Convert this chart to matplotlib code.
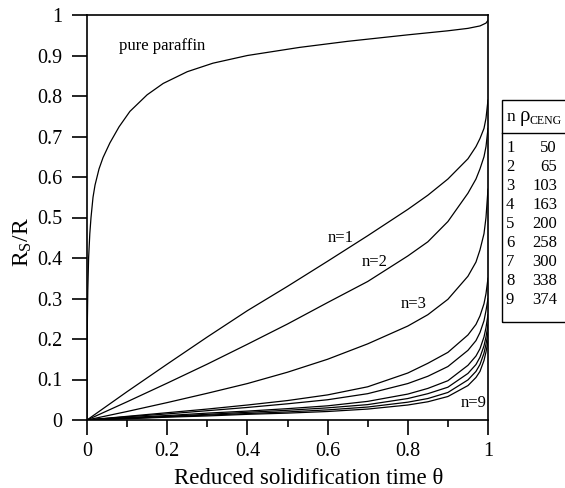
import matplotlib
matplotlib.use("Agg")
import matplotlib.pyplot as plt
from matplotlib.patches import Rectangle
from matplotlib.lines import Line2D
from matplotlib.ticker import MultipleLocator

plt.rcParams['font.family'] = ['Liberation Serif', 'DejaVu Serif']
plt.rcParams['mathtext.fontset'] = 'custom'
plt.rcParams['mathtext.rm'] = 'Liberation Serif'
plt.rcParams['mathtext.it'] = 'Liberation Serif:italic'

# ---- data ----
theta_pure = [0, 0.0005, 0.001, 0.002, 0.004, 0.007, 0.01, 0.015, 0.02, 0.03, 0.04,
              0.057, 0.08, 0.107, 0.15, 0.19, 0.25, 0.314, 0.4, 0.53, 0.65, 0.8,
              0.9, 0.95, 0.98, 0.995, 1.0]
r_pure = [0, 0.17, 0.25, 0.32, 0.40, 0.46, 0.50, 0.55, 0.58, 0.62, 0.648,
          0.684, 0.724, 0.762, 0.803, 0.831, 0.86, 0.881, 0.90, 0.92, 0.935, 0.951,
          0.961, 0.967, 0.973, 0.98, 0.987]

theta = [0, 0.1, 0.2, 0.3, 0.4, 0.5, 0.6, 0.7, 0.8, 0.85, 0.9, 0.95, 0.97,
         0.98, 0.99, 0.995, 1.0]
r_n1 = [0, 0.07, 0.138, 0.205, 0.27, 0.33, 0.392, 0.455, 0.52, 0.555, 0.595, 0.645,
        0.675, 0.695, 0.72, 0.745, 0.79]
r_n2 = [0, 0.045, 0.091, 0.138, 0.187, 0.237, 0.29, 0.342, 0.405, 0.44, 0.49, 0.56,
        0.595, 0.62, 0.65, 0.675, 0.72]
r_n3 = [0, 0.021, 0.043, 0.066, 0.09, 0.118, 0.15, 0.188, 0.232, 0.26, 0.298, 0.355,
        0.39, 0.42, 0.46, 0.5, 0.57]
r_n4 = [0, 0.009, 0.018, 0.027, 0.037, 0.048, 0.062, 0.082, 0.116, 0.14, 0.167, 0.21,
        0.236, 0.257, 0.287, 0.312, 0.35]
r_n5 = [0, 0.008, 0.015, 0.023, 0.031, 0.04, 0.05, 0.065, 0.09, 0.108, 0.132, 0.172,
        0.196, 0.216, 0.245, 0.27, 0.3]
r_n6 = [0, 0.006, 0.011, 0.017, 0.022, 0.028, 0.035, 0.046, 0.064, 0.078, 0.097, 0.135,
        0.158, 0.176, 0.205, 0.228, 0.26]
r_n7 = [0, 0.005, 0.009, 0.014, 0.019, 0.024, 0.03, 0.038, 0.053, 0.065, 0.081, 0.115,
        0.137, 0.155, 0.183, 0.205, 0.235]
r_n8 = [0, 0.004, 0.008, 0.012, 0.016, 0.02, 0.025, 0.032, 0.044, 0.053, 0.068, 0.099,
        0.12, 0.137, 0.165, 0.187, 0.215]
r_n9 = [0, 0.003, 0.007, 0.01, 0.014, 0.017, 0.021, 0.027, 0.037, 0.045, 0.058, 0.085,
        0.105, 0.12, 0.147, 0.168, 0.195]

n_series = [r_n1, r_n2, r_n3, r_n4, r_n5, r_n6, r_n7, r_n8, r_n9]
table_n = [1, 2, 3, 4, 5, 6, 7, 8, 9]
table_rho = [50, 65, 103, 163, 200, 258, 300, 338, 374]

xticks = [0, 0.2, 0.4, 0.6, 0.8, 1]
xticklabels = ['0', '0.2', '0.4', '0.6', '0.8', '1']
yticks = [0, 0.1, 0.2, 0.3, 0.4, 0.5, 0.6, 0.7, 0.8, 0.9, 1]
yticklabels = ['0', '0.1', '0.2', '0.3', '0.4', '0.5', '0.6', '0.7', '0.8', '0.9', '1']

# ---- figure ----
W, H = 565, 488
fig = plt.figure(figsize=(W / 100, H / 100), dpi=100)
ax = fig.add_axes([87 / W, (H - 420) / H, (488 - 87) / W, (420 - 15) / H])

ax.plot(theta_pure, r_pure, color='black', lw=0.9)
for r in n_series:
    ax.plot(theta, r, color='black', lw=0.9)

ax.set_xlim(0, 1)
ax.set_ylim(0, 1)
ax.set_xticks(xticks)
ax.set_xticklabels(xticklabels)
ax.set_yticks(yticks)
ax.set_yticklabels(yticklabels)
ax.xaxis.set_minor_locator(MultipleLocator(0.1))
ax.tick_params(axis='both', which='major', direction='out', length=11, width=1.2,
               labelsize=14.5, pad=5)
ax.tick_params(axis='y', which='major', pad=7)
ax.tick_params(axis='x', which='minor', direction='out', length=5, width=1.2)
for s in ax.spines.values():
    s.set_linewidth(1.2)

ax.set_xlabel('Reduced solidification time θ', fontsize=16.5, labelpad=5)
ax.xaxis.label.set_x((309 - 87) / 401)
ax.set_ylabel(r'R$_\mathregular{S}$/R', fontsize=17, labelpad=2)
ax.yaxis.label.set_y((420 - 242) / 405)

ax.text(0.08, 0.924, 'pure paraffin', fontsize=12, ha='left', va='center')
ax.text(0.633, 0.449, 'n=1', fontsize=12, ha='center', va='center')
ax.text(0.718, 0.39, 'n=2', fontsize=12, ha='center', va='center')
ax.text(0.815, 0.286, 'n=3', fontsize=12, ha='center', va='center')
ax.text(0.965, 0.042, 'n=9', fontsize=12, ha='center', va='center')

# ---- table legend (figure pixel coords) ----
def fx(px):
    return px / W

def fy(py):
    return (H - py) / H

rect = Rectangle((fx(502), fy(322)), fx(600) - fx(502), fy(100) - fy(322),
                 transform=fig.transFigure, fill=False, edgecolor='black', lw=1.0)
fig.patches.append(rect)
fig.lines.append(Line2D([fx(502), fx(570)], [fy(133), fy(133)],
                        transform=fig.transFigure, color='black', lw=1.0))
fig.text(fx(507), fy(117), 'n', fontsize=12.5, ha='left', va='center')
fig.text(fx(520), fy(117), 'ρ', fontsize=15, ha='left', va='center')
fig.text(fx(530), fy(121), 'CENG', fontsize=8.5, ha='left', va='center')
for i, (nn, rho) in enumerate(zip(table_n, table_rho)):
    y = 148 + i * 19
    fig.text(fx(506), fy(y), str(nn), fontsize=12, ha='left', va='center')
    fig.text(fx(557), fy(y), str(rho), fontsize=12, ha='right', va='center')

fig.savefig('out.png', dpi=100)
